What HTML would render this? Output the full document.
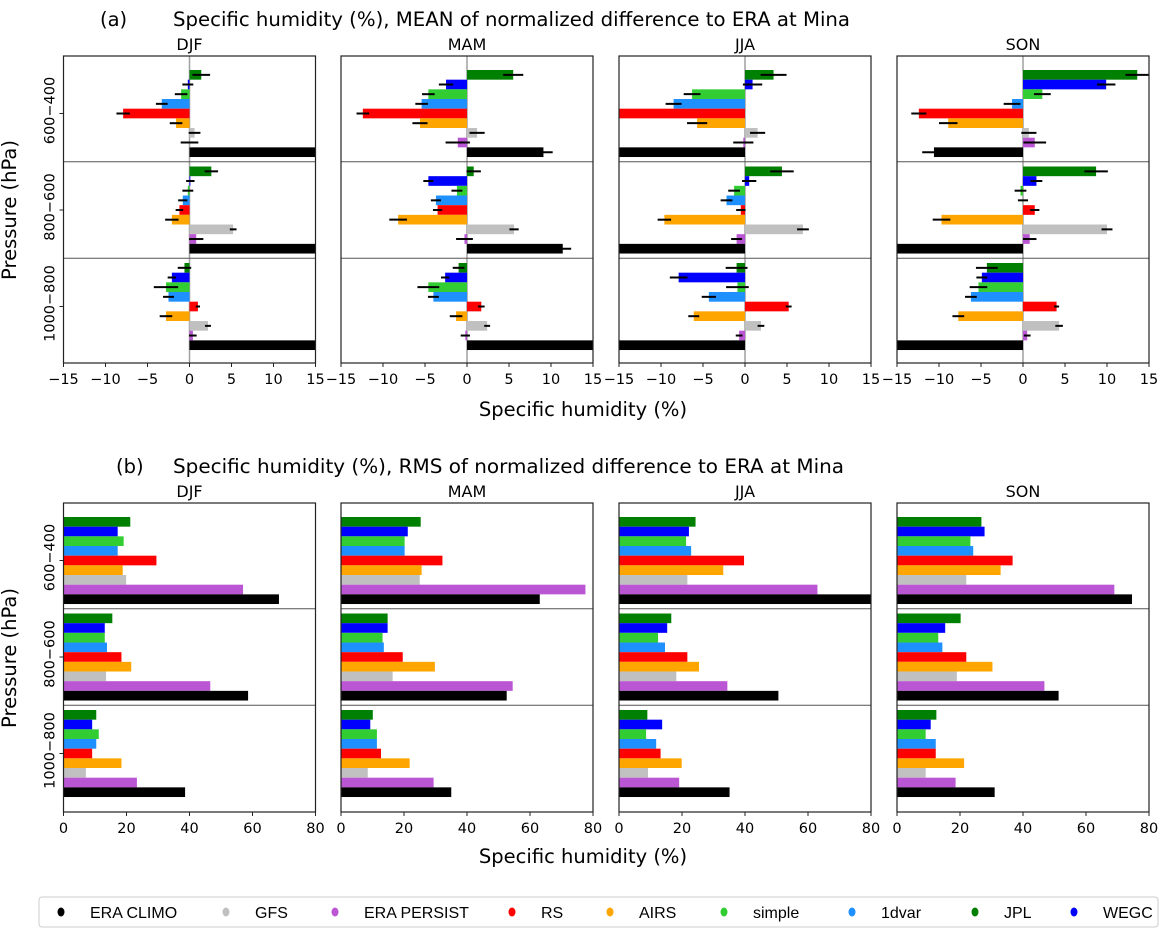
<!DOCTYPE html>
<html><head><meta charset="utf-8">
<style>
body{margin:0;background:#fff;}
svg{display:block;font-family:"DejaVu Sans","Liberation Sans",sans-serif;}
</style></head>
<body>
<svg id="fig" width="1167" height="934" viewBox="0 0 1167 934" xmlns="http://www.w3.org/2000/svg">
<text x="100" y="26" font-size="19.5">(a)</text>
<text x="173" y="26" font-size="19.5" textLength="677" lengthAdjust="spacingAndGlyphs">Specific humidity (%), MEAN of normalized difference to ERA at Mina</text>
<text x="116" y="473" font-size="19.5">(b)</text>
<text x="173" y="473" font-size="19.5" textLength="671" lengthAdjust="spacingAndGlyphs">Specific humidity  (%), RMS of normalized difference to ERA at Mina</text>
<text transform="translate(16,210) rotate(-90)" text-anchor="middle" font-size="19.5">Pressure (hPa)</text>
<text transform="translate(16,658) rotate(-90)" text-anchor="middle" font-size="19.5">Pressure (hPa)</text>
<text x="583" y="416" text-anchor="middle" font-size="19.5">Specific humidity (%)</text>
<text x="583" y="863" text-anchor="middle" font-size="19.5">Specific humidity (%)</text>
<g id="panels"></g>
<g id="legend"></g>
</svg>
<script>
const models = ["JPL","WEGC","simple","1dvar","RS","AIRS","GFS","ERA PERSIST","ERA CLIMO"];
const seasons = ["DJF","MAM","JJA","SON"];
const levels = ["600\u2212400","800\u2212600","1000\u2212800"];
const meanTicks = [-15,-10,-5,0,5,10,15];
const rmsTicks = [0,20,40,60,80];
const legendOrder = ["ERA CLIMO","GFS","ERA PERSIST","RS","AIRS","simple","1dvar","JPL","WEGC"];

const meanDJF = [[1.4,-0.2,-1.0,-3.3,-7.9,-1.6,0.6,0.0,17],[2.6,0.1,-0.2,-0.8,-1.2,-2.1,5.2,0.8,17],[-0.6,-2.1,-2.8,-2.5,1.0,-2.8,2.2,0.4,17]];
const errDJF = [[1.05,0.65,0.75,0.7,0.8,0.75,0.7,1.05,1],[0.8,0.5,0.65,0.55,0.45,0.8,0.4,0.85,1],[0.8,0.5,1.45,0.65,0.25,0.75,0.35,0.45,1]];
const meanMAM = [[5.5,-2.5,-4.6,-5.4,-12.4,-5.6,1.2,-1.1,9.1],[0.8,-4.6,-1.2,-3.7,-3.5,-8.2,5.6,-0.3,11.4],[-1.0,-2.6,-4.6,-4.0,1.7,-1.3,2.4,-0.2,17]];
const errMAM = [[1.2,0.85,0.75,0.75,0.75,0.9,0.9,1.45,1.1],[0.85,0.6,0.65,0.6,0.55,1.05,0.55,1.0,1.0],[0.7,0.5,1.3,0.65,0.4,0.75,0.35,0.55,1]];
const meanJJA = [[3.4,0.9,-6.3,-8.5,-17,-5.7,1.5,-0.2,-17],[4.4,0.5,-1.3,-2.2,-0.5,-9.6,6.9,-1.0,-17],[-1.0,-7.9,-0.9,-4.3,5.2,-6.1,1.9,-0.7,-17]];
const errJJA = [[1.55,1.15,1.0,0.95,1,1.2,0.9,1.2,1],[1.4,0.85,0.7,0.7,0.55,0.8,0.7,0.65,1],[1.3,1.05,1.35,0.85,0.35,0.65,0.4,0.4,1]];
const meanSON = [[13.6,9.9,2.3,-1.3,-12.4,-8.9,0.7,1.4,-10.6],[8.7,1.6,-0.3,0.0,1.4,-9.7,10.0,0.8,-17],[-4.3,-4.9,-5.3,-6.2,4.0,-7.7,4.3,0.5,-17]];
const errSON = [[1.4,1.1,1.0,1.0,0.9,1.1,0.9,1.35,1.4],[1.4,0.7,0.7,0.6,0.55,1.05,0.65,0.8,1],[1.3,0.65,1.05,0.7,0.3,0.7,0.45,0.4,1]];

const rmsDJF = [[21.2,17.2,19.1,17.2,29.5,18.8,19.9,57.0,68.4],[15.5,13.1,13.1,13.8,18.4,21.5,13.5,46.6,58.6],[10.4,9.1,11.2,10.4,9.1,18.4,7.1,23.3,38.6]];
const rmsMAM = [[25.3,21.2,20.2,20.2,32.2,25.6,25.0,77.6,63.1],[14.8,14.8,13.2,13.6,19.6,29.8,16.4,54.5,52.6],[10.1,9.3,11.4,11.4,12.7,21.8,8.5,29.4,35.0]];
const rmsJJA = [[24.3,22.2,21.3,22.9,39.7,33.1,21.7,63.0,81],[16.6,15.3,12.4,14.6,21.7,25.4,18.2,34.4,50.6],[9.0,13.7,8.6,11.8,13.2,19.9,9.2,19.1,35.1]];
const rmsSON = [[26.8,27.8,23.3,24.2,36.7,32.9,22.0,69.0,74.6],[20.2,15.3,13.1,14.4,22.0,30.3,19.0,46.8,51.3],[12.5,10.7,9.1,12.3,12.3,21.3,9.1,18.6,31.0]];

const colors = {"JPL":"#008000","WEGC":"#0000ff","simple":"#32cd32","1dvar":"#1e90ff","RS":"#ff0000","AIRS":"#ffa500","GFS":"#c0c0c0","ERA PERSIST":"#ba55d3","ERA CLIMO":"#000000"};

const NS="http://www.w3.org/2000/svg";
const svg=document.getElementById('fig');
const panelsG=document.getElementById('panels');
function mk(tag,attrs,parent){const e=document.createElementNS(NS,tag);for(const k in attrs)e.setAttribute(k,attrs[k]);(parent||panelsG).appendChild(e);return e;}
const defs=mk('defs',{},svg);

const panelX=[63.5,341,619,897];
const PW=252;
const BAR_H=9.67, PITCH=96.5, PAD=14;

function drawPanel(row, si, vals, errs){
  const top = row===0?56:503, bottom = row===0?363:812;
  const x0 = panelX[si];
  const dmin = row===0?-15:0, dmax = row===0?15:80;
  const xs = v => x0 + (v-dmin)/(dmax-dmin)*PW;
  const ys = (g,i) => top + PAD + g*PITCH + i*BAR_H;
  const cid='clip'+row+si;
  const cp=mk('clipPath',{id:cid},defs);
  mk('rect',{x:x0,y:top,width:PW,height:bottom-top},cp);
  const g=mk('g',{});
  
  
  const t=mk('text',{x:x0+PW/2,y:top-6,'text-anchor':'middle','font-size':16},g);
  t.textContent=seasons[si];
  
  
  const cg=mk('g',{'clip-path':'url(#'+cid+')'},g);
  if(row===0){
    const zl=mk('line',{x1:xs(0),x2:xs(0),y1:top,y2:bottom,stroke:'#a0a0a0','stroke-width':1.5},cg);
    
    
  }
  for(let gi=0;gi<levels.length;gi++){
    for(let i=0;i<models.length;i++){
      const v=vals[gi][i];
      const xa=Math.min(xs(0),xs(v)), w=Math.abs(xs(v)-xs(0));
      const r=mk('rect',{x:xa,y:ys(gi,i),width:w,height:BAR_H,fill:colors[models[i]]},cg);
      
      
      if(errs){
        const e=errs[gi][i];
        const yc=ys(gi,i)+BAR_H/2;
        const el=mk('line',{x1:xs(v-e),x2:xs(v+e),y1:yc,y2:yc,stroke:'#000','stroke-width':2},cg);
        
        
      }
    }
  }
  for(let k=1;k<3;k++){
    const yy=top+PAD-4.8+k*PITCH;
    const sl=mk('line',{x1:x0,x2:x0+PW,y1:yy,y2:yy,stroke:'#555','stroke-width':1},g);
    
    
  }
  const fr=mk('rect',{x:x0,y:top,width:PW,height:bottom-top,fill:'none',stroke:'#222','stroke-width':1.2},g);
  
  
  const ticks=row===0?meanTicks:rmsTicks;
  ticks.forEach(tv=>{
    mk('line',{x1:xs(tv),x2:xs(tv),y1:bottom,y2:bottom+4,stroke:'#222','stroke-width':1},g);
    const tl=mk('text',{x:xs(tv),y:bottom+21,'text-anchor':'middle','font-size':14.5},g);
    tl.textContent=String(tv).replace('-','\u2212');
    
    
  });
  if(si===0){
    for(let gi=0;gi<levels.length;gi++){
      const yc=ys(gi,0)+BAR_H*models.length/2;
      mk('line',{x1:x0-4,x2:x0,y1:yc,y2:yc,stroke:'#222','stroke-width':1},g);
      const yl=mk('text',{transform:'translate('+(x0-9)+','+(yc-3)+') rotate(-90)','text-anchor':'middle','font-size':14.5},g);
      yl.textContent=levels[gi];
      
      
    }
  }
}
const meanAll=[meanDJF,meanMAM,meanJJA,meanSON], errAll=[errDJF,errMAM,errJJA,errSON], rmsAll=[rmsDJF,rmsMAM,rmsJJA,rmsSON];
for(let s=0;s<4;s++){drawPanel(0,s,meanAll[s],errAll[s]);drawPanel(1,s,rmsAll[s],null);}

const lg=document.getElementById('legend');
mk('rect',{x:39,y:897,width:1119,height:30,rx:3,fill:'#fff',stroke:'#ccc','stroke-width':1},lg);
const legX=[61,226,335,512,610,724,852,975,1074];
legendOrder.forEach((name,k)=>{
  const it=mk('g',{},lg);
  
  
  mk('ellipse',{cx:legX[k],cy:912,rx:3.5,ry:4.5,fill:colors[name]},it);
  const tx=mk('text',{x:legX[k]+29,y:918,'font-size':16,'font-family':'"Liberation Sans",sans-serif'},it);
  tx.textContent=name;
});
</script>
</body></html>
